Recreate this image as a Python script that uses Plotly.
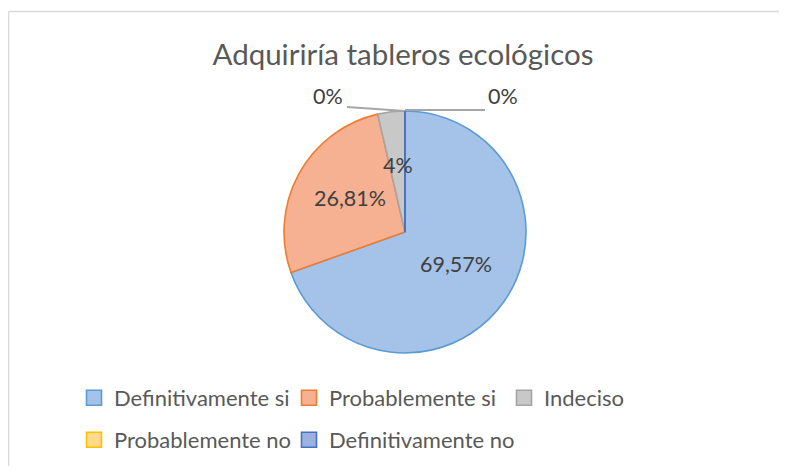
import math
import plotly.graph_objects as go

# ---- data ----
categories = ["Definitivamente si", "Probablemente si", "Indeciso",
              "Probablemente no", "Definitivamente no"]
values = [69.57, 26.81, 3.62, 0, 0]
value_labels = ["69,57%", "26,81%", "4%", "0%", "0%"]
title_text = "Adquiriría tableros ecológicos"

# ---- style ----
fills = ["#A5C2E8", "#F5B192", "#C8C8C8", "#FFD98C", "#9EB0E0"]
borders = ["#5B9BD5", "#ED7D31", "#A5A5A5", "#FFC000", "#4472C4"]
OFF = 8                              # page body margin
W, H = 787 - 2 * OFF, 474 - 2 * OFF  # figure size (no page overflow)
FONT = "Lato"
TXT = "#404040"

# pie geometry (page pixels)
cx, cy, r = 405, 232, 121


def px(x):
    return (x - OFF) / W


def py(y):
    return 1 - (y - OFF) / H


fig = go.Figure()
fig.add_trace(go.Pie(
    labels=categories, values=values, sort=False, direction="clockwise",
    rotation=0, textinfo="none", hoverinfo="label+percent",
    marker=dict(colors=fills, line=dict(color=borders, width=1.6)),
    domain=dict(x=[px(cx - r), px(cx + r)], y=[py(cy + r), py(cy - r)]),
    showlegend=False,
))

# legend entries: row 1 -> legend, row 2 -> legend2 / legend3
legend_of = ["legend", "legend", "legend", "legend2", "legend3"]
for cat, fc, bc, lg in zip(categories, fills, borders, legend_of):
    fig.add_trace(go.Scatter(
        x=[None], y=[None], mode="markers", name=cat,
        marker=dict(symbol="square", size=15, color=fc,
                    line=dict(color=bc, width=1.6)),
        legend=lg, hoverinfo="skip",
    ))

total = sum(values)
annotations = []
shapes = []
cum = 0.0
zero_idx = 0
zero_offsets = [(-77, -15), (98, -15)]
zero_lines = [((-58, -4), (0, 0)), ((0, -1), (80, -1))]
lab_font = dict(family=FONT, size=21.5, color=TXT)
for v, lab in zip(values, value_labels):
    start = cum / total * 2 * math.pi
    cum += v
    end = cum / total * 2 * math.pi
    mid = (start + end) / 2
    if v > 0:
        f = 0.52
        x = cx + f * r * math.sin(mid)
        y = cy - f * r * math.cos(mid)
        annotations.append(dict(x=px(x), y=py(y), xref="paper", yref="paper",
                                xanchor="center", yanchor="middle",
                                text=lab, showarrow=False, yshift=4,
                                font=lab_font))
    else:
        ax = cx + r * math.sin(mid)
        ay = cy - r * math.cos(mid)
        ox, oy = zero_offsets[zero_idx]
        annotations.append(dict(x=px(ax + ox), y=py(ay + oy), xref="paper",
                                yref="paper", xanchor="center",
                                yanchor="middle", text=lab, showarrow=False,
                                font=lab_font))
        (x0, y0), (x1, y1) = zero_lines[zero_idx]
        shapes.append(dict(type="line", xref="paper", yref="paper",
                           x0=px(ax + x0), y0=py(ay + y0),
                           x1=px(ax + x1), y1=py(ay + y1),
                           line=dict(color="#A6A6A6", width=2)))
        zero_idx += 1

# boundary line of the zero-width last slice
ang = 0.0
shapes.append(dict(type="line", xref="paper", yref="paper",
                   x0=px(cx), y0=py(cy),
                   x1=px(cx + r * math.sin(ang)), y1=py(cy - r * math.cos(ang)),
                   line=dict(color=borders[-1], width=1.6)))

# chart area border (top and left edges; others run off the page)
border_line = dict(color="#D9D9D9", width=1.5)
shapes.append(dict(type="line", xref="paper", yref="paper", layer="below",
                   x0=px(8.5), y0=py(11.5), x1=1.0, y1=py(11.5),
                   line=border_line))
shapes.append(dict(type="line", xref="paper", yref="paper", layer="below",
                   x0=px(8.5), y0=py(11.5), x1=px(8.5), y1=0.0,
                   line=border_line))

legend_common = dict(orientation="h", xanchor="left", yanchor="middle",
                     font=dict(family=FONT, size=22, color="#595959"),
                     bgcolor="rgba(0,0,0,0)", itemclick=False,
                     itemdoubleclick=False)

fig.update_layout(
    width=W, height=H,
    margin=dict(l=0, r=0, t=0, b=0),
    paper_bgcolor="white", plot_bgcolor="white",
    title=dict(text=title_text, x=px(403), xanchor="center",
               y=py(55), yanchor="middle",
               font=dict(family=FONT, size=29.5, color="#595959")),
    xaxis=dict(visible=False), yaxis=dict(visible=False),
    legend=dict(x=px(74), y=py(398), entrywidth=170, entrywidthmode="pixels",
                **legend_common),
    legend2=dict(x=px(74), y=py(440), **legend_common),
    legend3=dict(x=px(289), y=py(440), **legend_common),
    annotations=annotations,
    shapes=shapes,
)

fig.write_html("out.html", config={"displayModeBar": False})
